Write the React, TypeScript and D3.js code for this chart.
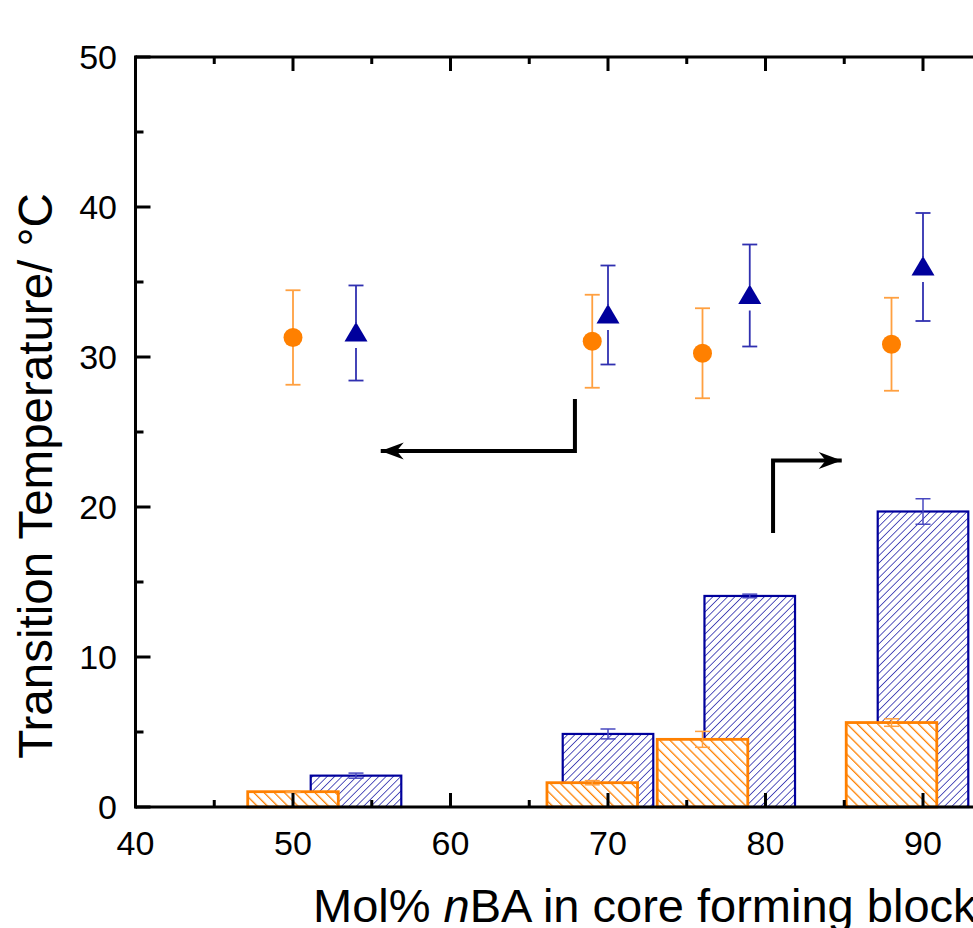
import React from 'react';
import * as d3 from 'd3';

// left axis: transition temperatures (points)
const circleX = [50, 69, 76, 88];
const circleY = [31.3, 31.05, 30.25, 30.85];
const circleErr = [3.15, 3.1, 3.0, 3.1];

const triX = [54, 70, 79, 90];
const triY = [31.6, 32.8, 34.1, 36.0];
const triErr = [3.17, 3.3, 3.4, 3.6];

// bars (read against the left scale)
const blueBarX = [54, 70, 79, 90];
const blueBarY = [2.09, 4.87, 14.07, 19.7];
const blueBarErr = [0.17, 0.33, 0.12, 0.85];

const orangeBarX = [50, 69, 76, 88];
const orangeBarY = [1.02, 1.62, 4.51, 5.63];
const orangeBarErr = [0.05, 0.14, 0.53, 0.25];

const barWidth = 5.75;

const xTickLabels = [40, 50, 60, 70, 80, 90];
const yTickLabels = [0, 10, 20, 30, 40, 50];

// annotation arrows: [x, y] corners in data units
const leftArrow = [[67.9, 27.2], [67.9, 23.73], [55.57, 23.73]];
const rightArrow = [[80.48, 18.27], [80.48, 23.1], [84.84, 23.1]];

const ORANGE = '#FF8000';
const ORANGE_ERR = '#FFA040';
const NAVY = '#00009C';
const NAVY_ERR = '#3030B0';

const App = () => {
    const width = 973;
    const height = 928;

    const x = d3.scaleLinear().domain([40, 100]).range([135.5, 1080.5]);
    const y = d3.scaleLinear().domain([0, 50]).range([807, 57]);

    const xMinor = d3.range(40, 101, 5);
    const yMinor = d3.range(0, 51, 5);
    const font = '"Liberation Sans", Arial, sans-serif';

    const line = d3.line<number[]>().x(d => x(d[0])).y(d => y(d[1]));

    const errBar = (cx: number, v: number, e: number, color: string, w: number, cap: number, key: string) => (
        <g key={key} stroke={color} strokeWidth={w}>
            <line x1={x(cx)} x2={x(cx)} y1={y(v + e)} y2={y(v - e)} />
            <line x1={x(cx) - cap / 2} x2={x(cx) + cap / 2} y1={y(v + e)} y2={y(v + e)} />
            <line x1={x(cx) - cap / 2} x2={x(cx) + cap / 2} y1={y(v - e)} y2={y(v - e)} />
        </g>
    );

    const bar = (cx: number, v: number, pattern: string, stroke: string, sw: number, key: string) => {
        const x0 = x(cx - barWidth / 2);
        const x1 = x(cx + barWidth / 2);
        return (
            <g key={key}>
                <rect x={x0} y={y(v)} width={x1 - x0} height={y(0) - y(v)} fill="#fff" />
                <rect x={x0} y={y(v)} width={x1 - x0} height={y(0) - y(v)} fill={`url(#${pattern})`} stroke={stroke} strokeWidth={sw} />
            </g>
        );
    };

    return (
        <svg width={width} height={height} style={{ position: 'absolute', left: 0, top: 0, background: '#fff' }}>
            <defs>
                <pattern id="hatchBlue" patternUnits="userSpaceOnUse" width="5.2" height="10" patternTransform="rotate(45)">
                    <line x1="0" y1="0" x2="0" y2="10" stroke={NAVY} strokeWidth="1.3" />
                </pattern>
                <pattern id="hatchOrange" patternUnits="userSpaceOnUse" width="7.2" height="10" patternTransform="rotate(-45)">
                    <line x1="0" y1="0" x2="0" y2="10" stroke={ORANGE} strokeWidth="2.6" />
                </pattern>
                <marker id="head" viewBox="-24 -9 26 18" markerWidth="26" markerHeight="18" refX="0" refY="0"
                    orient="auto" markerUnits="userSpaceOnUse">
                    <path d="M0,0 L-23,-8.5 L-16,0 L-23,8.5 Z" fill="#000" />
                </marker>
            </defs>

            {/* bars: blue first, orange over it */}
            {blueBarX.map((cx, i) => bar(cx, blueBarY[i], 'hatchBlue', NAVY, 2.2, 'bb' + i))}
            {blueBarX.map((cx, i) => errBar(cx, blueBarY[i], blueBarErr[i], '#4848C0', 1.5, 15, 'be' + i))}
            {orangeBarX.map((cx, i) => bar(cx, orangeBarY[i], 'hatchOrange', ORANGE, 2.8, 'ob' + i))}
            {orangeBarX.map((cx, i) => errBar(cx, orangeBarY[i], orangeBarErr[i], ORANGE_ERR, 1.5, 15, 'oe' + i))}

            {/* points with error bars */}
            {circleX.map((cx, i) => errBar(cx, circleY[i], circleErr[i], ORANGE_ERR, 1.8, 15, 'ce' + i))}
            {circleX.map((cx, i) => (
                <circle key={'c' + i} cx={x(cx)} cy={y(circleY[i])} r={9.5} fill={ORANGE} />
            ))}
            {triX.map((cx, i) => {
                const px = x(cx);
                const py = y(triY[i]);
                const top = y(triY[i] + triErr[i]);
                const bot = y(triY[i] - triErr[i]);
                return (
                    <g key={'t' + i}>
                        <g stroke={NAVY_ERR} strokeWidth={1.8}>
                            <line x1={px} x2={px} y1={top} y2={py - 10} />
                            <line x1={px} x2={px} y1={py + 15} y2={bot} />
                            <line x1={px - 7.5} x2={px + 7.5} y1={top} y2={top} />
                            <line x1={px - 7.5} x2={px + 7.5} y1={bot} y2={bot} />
                        </g>
                        <path d={`M${px},${py - 11} L${px + 11.5},${py + 8.5} L${px - 11.5},${py + 8.5} Z`} fill={NAVY} />
                    </g>
                );
            })}

            {/* arrows */}
            <path d={line(leftArrow) || ''} fill="none" stroke="#000" strokeWidth={4} markerEnd="url(#head)" />
            <path d={line(rightArrow) || ''} fill="none" stroke="#000" strokeWidth={4} markerEnd="url(#head)" />

            {/* axes frame */}
            <g stroke="#000" strokeWidth={3}>
                <line x1={x(40)} x2={width} y1={y(0)} y2={y(0)} />
                <line x1={x(40)} x2={width} y1={y(50)} y2={y(50)} />
                <line x1={x(40)} x2={x(40)} y1={y(0) + 1.5} y2={y(50) - 1.5} />
                {xMinor.map(v => {
                    const len = v % 10 === 0 ? 14 : 7;
                    return (
                        <g key={'xt' + v}>
                            <line x1={x(v)} x2={x(v)} y1={y(0)} y2={y(0) - len} />
                            <line x1={x(v)} x2={x(v)} y1={y(50)} y2={y(50) + len} />
                        </g>
                    );
                })}
                {yMinor.map(v => {
                    const len = v % 10 === 0 ? 15 : 8;
                    return <line key={'yt' + v} x1={x(40)} x2={x(40) + len} y1={y(v)} y2={y(v)} />;
                })}
            </g>

            <g fontFamily={font} fontSize={34} fill="#000">
                {xTickLabels.map(v => (
                    <text key={'xl' + v} x={x(v)} y={855} textAnchor="middle">{v}</text>
                ))}
                {yTickLabels.map(v => (
                    <text key={'yl' + v} x={117} y={y(v)} dy="0.35em" textAnchor="end">{v}</text>
                ))}
            </g>

            <text x={313} y={922} fontFamily={font} fontSize={47}>
                Mol% <tspan fontStyle="italic">n</tspan>BA in core forming block
            </text>
            <text transform="translate(52,476) rotate(-90)" textAnchor="middle" fontFamily={font} fontSize={47.5}>
                Transition Temperature/ °C
            </text>
        </svg>
    );
};

export default App;
